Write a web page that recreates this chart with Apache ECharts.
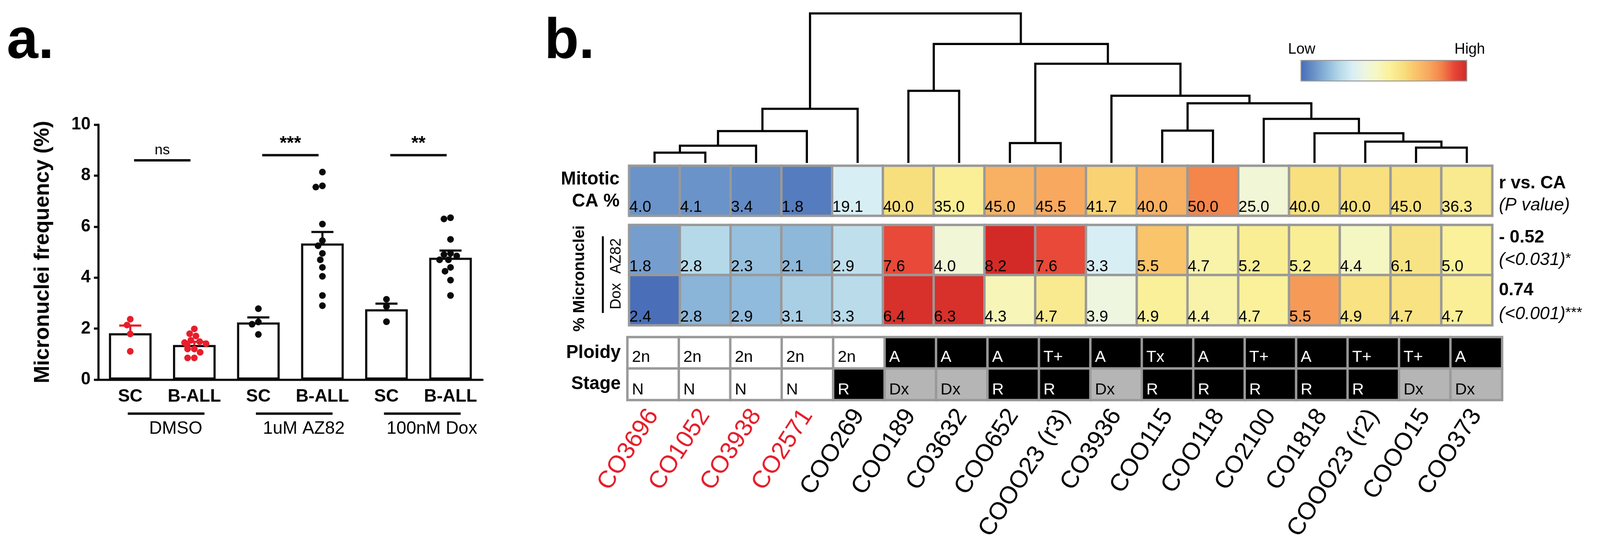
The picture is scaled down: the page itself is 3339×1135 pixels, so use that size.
<!DOCTYPE html>
<html><head><meta charset="utf-8">
<script src="https://cdn.jsdelivr.net/npm/echarts@6/dist/echarts.min.js"></script>
<style>html,body{margin:0;padding:0;background:#fff}#c{width:3339px;height:1135px}</style>
</head><body><div id="c"></div><script>
const FONT = '"Liberation Sans", Arial, Helvetica, sans-serif';
const RED = '#E61E2B';

// ---------- Panel a data ----------
const groupCats = ['SC', 'B-ALL', 'SC', 'B-ALL', 'SC', 'B-ALL'];
const treatments = ['DMSO', '1uM AZ82', '100nM Dox'];
const barMeans = [1.82, 1.36, 2.24, 5.34, 2.76, 4.78];
const barSEM = [0.30, 0.12, 0.20, 0.45, 0.22, 0.28];
const ptsSC_DMSO = [2.37, 2.14, 1.79, 1.11];
const ptsBALL_DMSO = [1.99, 1.80, 1.71, 1.54, 1.49, 1.45, 1.41, 1.34, 1.20, 1.20, 1.07, 0.85, 0.85];
const ptsSC_AZ82 = [2.78, 2.26, 2.17, 1.77];
const ptsBALL_AZ82 = [8.14, 7.60, 7.55, 6.10, 5.45, 5.25, 4.95, 4.70, 4.40, 4.05, 3.30, 2.90];
const ptsSC_Dox = [3.15, 2.87, 2.27];
const ptsBALL_Dox = [6.35, 6.30, 5.50, 4.95, 4.90, 4.85, 4.70, 4.70, 4.40, 4.25, 3.90, 3.30];
const sigLabels = ['ns', '***', '**'];
const sigHeights = [8.6, 8.8, 8.8];

// ---------- Panel b data ----------
const samples = ['CO3696', 'CO1052', 'CO3938', 'CO2571', 'COO269', 'COO189', 'CO3632', 'COO652', 'COOO23 (r3)',
  'CO3936', 'COO115', 'COO118', 'CO2100', 'CO1818', 'COOO23 (r2)', 'COOO15', 'COO373'];
const controlSamples = 4; // first four labelled in red
const caValues = [4.0, 4.1, 3.4, 1.8, 19.1, 40.0, 35.0, 45.0, 45.5, 41.7, 40.0, 50.0, 25.0, 40.0, 40.0, 45.0, 36.3];
const az82Values = [1.8, 2.8, 2.3, 2.1, 2.9, 7.6, 4.0, 8.2, 7.6, 3.3, 5.5, 4.7, 5.2, 5.2, 4.4, 6.1, 5.0];
const doxValues = [2.4, 2.8, 2.9, 3.1, 3.3, 6.4, 6.3, 4.3, 4.7, 3.9, 4.9, 4.4, 4.7, 5.5, 4.9, 4.7, 4.7];
// colour-scale position of each cell (0 = low/blue ... 13 = high/red)
const caLevel = [1, 1, 0.75, 0.35, 4, 8.05, 7.1, 9.75, 10, 8.5, 9.75, 11, 5.3, 8, 8, 8, 7.4];
const az82Level = [1.3, 3, 2.25, 2, 3.3, 12, 5.3, 13, 12, 4, 9, 6.6, 7.2, 7.2, 5.9, 7.8, 7];
const doxLevel = [0, 1.9, 2.1, 2.7, 3.1, 12.8, 12.8, 6.2, 7.4, 5, 7.05, 6.6, 7, 10.4, 7.9, 7.9, 7.1];
const ploidy = ['2n', '2n', '2n', '2n', '2n', 'A', 'A', 'A', 'T+', 'A', 'Tx', 'A', 'T+', 'A', 'T+', 'T+', 'A'];
const stage = ['N', 'N', 'N', 'N', 'R', 'Dx', 'Dx', 'R', 'R', 'Dx', 'R', 'R', 'R', 'R', 'R', 'Dx', 'Dx'];
// dendrogram merges: [child A, child B, height]; leaves are 0..16, merged nodes get ids 17, 18, ...
const dendroMerges = [[0, 1, 21.6], [17, 2, 36], [18, 3, 66.4], [19, 4, 113], [5, 6, 150.6], [7, 8, 41.5],
  [10, 11, 67.5], [15, 16, 32], [14, 24, 44.6], [13, 25, 62], [12, 26, 92], [23, 27, 124.5], [9, 28, 140.2],
  [22, 29, 207], [21, 30, 248.2], [20, 31, 312]];
const corrR = ['- 0.52', '0.74'];
const corrP = ['(<0.031)', '(<0.001)'];
const corrStars = ['*', '***'];

// ---------- styles ----------
const palette = ['#4A6FB8', '#6A93C9', '#8DB8DA', '#B5D9E9', '#D8EEF5', '#EEF6E0', '#F6F7C0', '#FAF19A',
  '#F8E07E', '#F9C46A', '#F8A95F', '#F4854B', '#E84938', '#D42A27'];
const catColor = { '2n': '#ffffff', 'N': '#ffffff', 'A': '#000000', 'T+': '#000000', 'Tx': '#000000', 'R': '#000000', 'Dx': '#B5B5B5' };

// ---------- derived ----------
const nodeX = samples.map((_, i) => i), nodeH = samples.map(() => 0);
const dendroSegs = dendroMerges.map(([a, b, h]) => {
  const seg = [nodeX[a], nodeH[a], nodeX[b], nodeH[b], h];
  nodeX.push((nodeX[a] + nodeX[b]) / 2); nodeH.push(h);
  return seg;
});
const redPts = [], blackPts = [];
[[0, ptsSC_DMSO], [1, ptsBALL_DMSO]].forEach(([c, arr]) => arr.forEach(v => redPts.push([c, v])));
[[2, ptsSC_AZ82], [3, ptsBALL_AZ82], [4, ptsSC_Dox], [5, ptsBALL_Dox]].forEach(([c, arr]) => arr.forEach(v => blackPts.push([c, v])));
const errData = barMeans.map((m, i) => [i, m, barSEM[i]]);
const sigData = sigHeights.map((h, i) => [2 * i, 2 * i + 1, h]);
const groupData = treatments.map((t, i) => [2 * i, 2 * i + 1]);

const caData = caLevel.map((l, i) => [i, 0, l]);
const mnData = az82Level.map((l, i) => [i, 0, l]).concat(doxLevel.map((l, i) => [i, 1, l]));
const psLabels = ploidy.concat(stage);
const psData = psLabels.map((lab, k) => ({
  value: [k % 17, Math.floor(k / 17), 0],
  itemStyle: { color: catColor[lab] },
  label: { color: catColor[lab] === '#000000' ? '#ffffff' : '#000000', offset: [0, k < 17 ? 9 : 12] }
}));

const chart = echarts.init(document.getElementById('c'), null, { width: 3339, height: 1135 });
const hidden = { show: false };
const heatCell = { borderColor: '#999999', borderWidth: 5 };

chart.setOption({
  animation: false,
  backgroundColor: '#ffffff',
  textStyle: { fontFamily: FONT, color: '#000' },
  grid: [
    { left: 205, top: 260, width: 802, height: 532 },
    { left: 1313, top: 28, width: 1801, height: 312 },
    { left: 1313, top: 346, width: 1801, height: 104 },
    { left: 1313, top: 469.5, width: 1801, height: 209 },
    { left: 1309.5, top: 703.5, width: 1825, height: 131 }
  ],
  xAxis: [
    { gridIndex: 0, type: 'category', data: groupCats, jitter: 50, jitterOverlap: false, jitterMargin: 0,
      axisLine: { lineStyle: { color: '#0a0a0a', width: 4.5 } },
      axisTick: { length: 13, lineStyle: { width: 4.5, color: '#0a0a0a' }, alignWithLabel: true },
      axisLabel: { fontSize: 37, fontWeight: 'bold', color: '#000', margin: 17, interval: 0 } },
    { gridIndex: 1, type: 'value', min: -0.5, max: 16.5, show: false },
    { gridIndex: 2, type: 'category', data: samples, show: false },
    { gridIndex: 3, type: 'category', data: samples, show: false },
    { gridIndex: 4, type: 'category', data: samples.map((s, i) => ({ value: s, textStyle: { color: i < controlSamples ? RED : '#000' } })),
      axisLine: hidden, axisTick: hidden,
      axisLabel: { rotate: 57, fontSize: 51, margin: 24, interval: 0 } }
  ],
  yAxis: [
    { gridIndex: 0, type: 'value', min: 0, max: 10, interval: 2,
      name: 'Micronuclei frequency (%)', nameLocation: 'middle', nameGap: 93,
      nameTextStyle: { fontSize: 44, fontWeight: 'bold', color: '#000' },
      axisLine: { show: true, lineStyle: { color: '#0a0a0a', width: 4.5 } },
      axisTick: { show: true, length: 9, lineStyle: { width: 4.5, color: '#0a0a0a' } },
      axisLabel: { fontSize: 36, fontWeight: 'bold', color: '#000', margin: 16 },
      splitLine: hidden },
    { gridIndex: 1, type: 'value', min: 0, max: 312, show: false },
    { gridIndex: 2, type: 'category', data: ['CA'],
      axisLine: hidden, axisTick: hidden,
      axisLabel: { formatter: () => 'Mitotic\nCA %', fontSize: 38, fontWeight: 'bold', lineHeight: 46, margin: 20, align: 'right', color: '#000' } },
    { gridIndex: 3, type: 'category', data: ['AZ82', 'Dox'], inverse: true, show: false },
    { gridIndex: 4, type: 'category', data: ['Ploidy', 'Stage'], inverse: true,
      axisLine: hidden, axisTick: hidden,
      axisLabel: { fontSize: 38, fontWeight: 'bold', margin: 14, color: '#000' } }
  ],
  visualMap: [{
    type: 'continuous', min: 0, max: 13, dimension: 2, seriesIndex: [7, 8],
    orient: 'horizontal', left: 2714, top: 125, itemWidth: 41, itemHeight: 344,
    calculable: false, hoverLink: false, padding: 0,
    borderColor: '#999999', borderWidth: 4,
    inRange: { color: palette }
  }],
  series: [
    { type: 'bar', xAxisIndex: 0, yAxisIndex: 0, data: barMeans, barWidth: 89, z: 1,
      itemStyle: { color: '#ffffff', borderColor: '#0a0a0a', borderWidth: 4.5 } },
    { type: 'scatter', xAxisIndex: 0, yAxisIndex: 0, data: redPts, symbolSize: 14, z: 3,
      itemStyle: { color: RED, opacity: 1 } },
    { type: 'scatter', xAxisIndex: 0, yAxisIndex: 0, data: blackPts, symbolSize: 14, z: 3,
      itemStyle: { color: '#0a0a0a', opacity: 1 } },
    { type: 'custom', xAxisIndex: 0, yAxisIndex: 0, data: errData, z: 5,
      renderItem: (params, api) => {
        const x = api.value(0), m = api.value(1), s = api.value(2);
        const p0 = api.coord([x, m]), p1 = api.coord([x, m + s]);
        const col = x < 2 ? RED : '#0a0a0a';
        const st = { stroke: col, lineWidth: 4.5 };
        return { type: 'group', children: [
          { type: 'line', shape: { x1: p0[0], y1: p0[1], x2: p1[0], y2: p1[1] }, style: st },
          { type: 'line', shape: { x1: p1[0] - 23, y1: p1[1], x2: p1[0] + 23, y2: p1[1] }, style: st }
        ] };
      } },
    { type: 'custom', xAxisIndex: 0, yAxisIndex: 0, data: sigData, z: 5, clip: false,
      renderItem: (params, api) => {
        const a = api.coord([api.value(0), api.value(2)]), b = api.coord([api.value(1), api.value(2)]);
        const lab = sigLabels[params.dataIndex];
        const star = lab !== 'ns';
        return { type: 'group', children: [
          { type: 'line', shape: { x1: a[0] + 8, y1: a[1], x2: b[0] - 8, y2: b[1] }, style: { stroke: '#0a0a0a', lineWidth: 5 } },
          { type: 'text', x: (a[0] + b[0]) / 2, y: a[1] - (star ? 4 : 6),
            style: { text: lab, fontFamily: FONT, fontSize: star ? 38 : 30, fontWeight: star ? 'bold' : 'normal',
              fill: '#000', align: 'center', verticalAlign: 'bottom' } }
        ] };
      } },
    { type: 'custom', xAxisIndex: 0, yAxisIndex: 0, data: groupData, z: 5, clip: false,
      renderItem: (params, api) => {
        const a = api.coord([api.value(0), 0]), b = api.coord([api.value(1), 0]);
        const mid = (a[0] + b[0]) / 2;
        return { type: 'group', children: [
          { type: 'line', shape: { x1: mid - 72, y1: a[1] + 71, x2: mid + 88, y2: a[1] + 71 }, style: { stroke: '#0a0a0a', lineWidth: 5 } },
          { type: 'text', x: mid + 28, y: a[1] + 103,
            style: { text: treatments[params.dataIndex], fontFamily: FONT, fontSize: 37, fill: '#000', align: 'center', verticalAlign: 'middle' } }
        ] };
      } },
    { type: 'custom', xAxisIndex: 1, yAxisIndex: 1, data: dendroSegs, z: 2, clip: false,
      renderItem: (params, api) => {
        const pts = [
          api.coord([api.value(0), api.value(1)]), api.coord([api.value(0), api.value(4)]),
          api.coord([api.value(2), api.value(4)]), api.coord([api.value(2), api.value(3)])
        ];
        return { type: 'polyline', shape: { points: pts }, style: { stroke: '#000', lineWidth: 4.5, fill: null, lineJoin: 'miter' } };
      } },
    { type: 'heatmap', xAxisIndex: 2, yAxisIndex: 2, data: caData, itemStyle: heatCell,
      label: { show: true, position: 'insideBottomLeft', distance: 3, fontSize: 33, color: '#000', fontFamily: FONT,
        formatter: p => caValues[p.dataIndex].toFixed(1) },
      emphasis: { disabled: true } },
    { type: 'heatmap', xAxisIndex: 3, yAxisIndex: 3, data: mnData, itemStyle: heatCell,
      label: { show: true, position: 'insideBottomLeft', distance: 3, fontSize: 33, color: '#000', fontFamily: FONT,
        formatter: p => (p.dataIndex < 17 ? az82Values[p.dataIndex] : doxValues[p.dataIndex - 17]).toFixed(1) },
      emphasis: { disabled: true } },
    { type: 'heatmap', xAxisIndex: 4, yAxisIndex: 4, data: psData, itemStyle: heatCell,
      label: { show: true, position: 'insideLeft', distance: 12, fontSize: 34, fontFamily: FONT,
        formatter: p => psLabels[p.dataIndex] },
      emphasis: { disabled: true } }
  ],
  graphic: [
    { type: 'text', x: 14, y: 88, style: { text: 'a.', fontFamily: FONT, fontSize: 118, fontWeight: 'bold', fill: '#000', verticalAlign: 'middle' } },
    { type: 'text', x: 1136, y: 88, style: { text: 'b.', fontFamily: FONT, fontSize: 118, fontWeight: 'bold', fill: '#000', verticalAlign: 'middle' } },
    { type: 'text', x: 2688, y: 103, style: { text: 'Low', fontFamily: FONT, fontSize: 31, fill: '#000', verticalAlign: 'middle' } },
    { type: 'text', x: 3099, y: 103, style: { text: 'High', fontFamily: FONT, fontSize: 31, fill: '#000', align: 'right', verticalAlign: 'middle' } },
    { type: 'text', x: 3128, y: 383, style: { text: 'r vs. CA', fontFamily: FONT, fontSize: 37, fontWeight: 'bold', fill: '#000', verticalAlign: 'middle' } },
    { type: 'text', x: 3128, y: 429, style: { text: '(P value)', fontFamily: FONT, fontSize: 37, fontStyle: 'italic', fill: '#000', verticalAlign: 'middle' } },
    { type: 'text', x: 3128, y: 496, style: { text: corrR[0], fontFamily: FONT, fontSize: 37, fontWeight: 'bold', fill: '#000', verticalAlign: 'middle' } },
    { type: 'text', x: 3128, y: 543, style: { text: '{i|' + corrP[0] + '}{s|' + corrStars[0] + '}', fontFamily: FONT, fill: '#000', verticalAlign: 'middle',
      rich: { i: { fontFamily: FONT, fontSize: 37, fontStyle: 'italic' }, s: { fontFamily: FONT, fontSize: 30, verticalAlign: 'top' } } } },
    { type: 'text', x: 3128, y: 606, style: { text: corrR[1], fontFamily: FONT, fontSize: 37, fontWeight: 'bold', fill: '#000', verticalAlign: 'middle' } },
    { type: 'text', x: 3128, y: 656, style: { text: '{i|' + corrP[1] + '}{s|' + corrStars[1] + '}', fontFamily: FONT, fill: '#000', verticalAlign: 'middle',
      rich: { i: { fontFamily: FONT, fontSize: 37, fontStyle: 'italic' }, s: { fontFamily: FONT, fontSize: 30, verticalAlign: 'top' } } } },
    { type: 'text', x: 1210, y: 581, rotation: Math.PI / 2, style: { text: '% Micronuclei', fontFamily: FONT, fontSize: 33, fontWeight: 'bold', fill: '#000', align: 'center', verticalAlign: 'middle' } },
    { type: 'text', x: 1286, y: 534, rotation: Math.PI / 2, style: { text: 'AZ82', fontFamily: FONT, fontSize: 31, fill: '#000', align: 'center', verticalAlign: 'middle' } },
    { type: 'text', x: 1286, y: 618, rotation: Math.PI / 2, style: { text: 'Dox', fontFamily: FONT, fontSize: 31, fill: '#000', align: 'center', verticalAlign: 'middle' } },
    { type: 'line', shape: { x1: 1258, y1: 493, x2: 1258, y2: 653 }, style: { stroke: '#000', lineWidth: 4 } }
  ]
});
</script></body></html>
